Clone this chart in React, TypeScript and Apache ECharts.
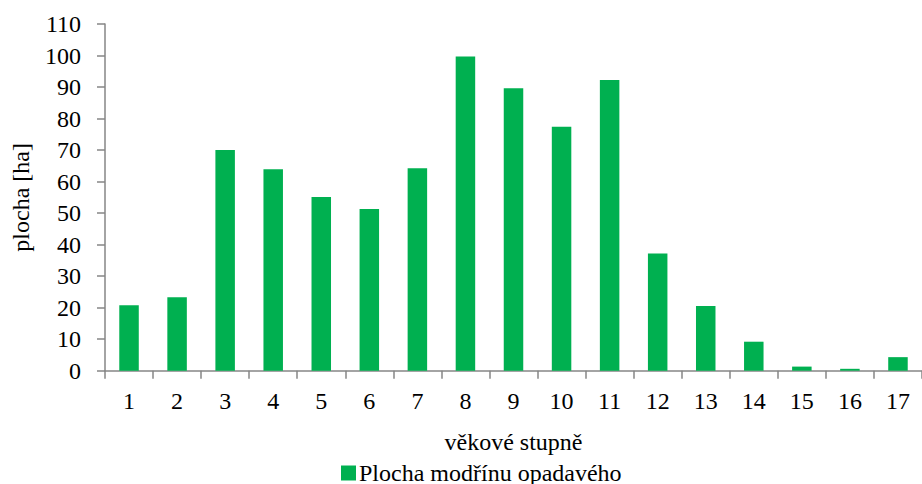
import React, { useEffect, useRef } from "react";
import * as echarts from "echarts";

const categories = ["1", "2", "3", "4", "5", "6", "7", "8", "9", "10", "11", "12", "13", "14", "15", "16", "17"];
const values = [20.8, 23.3, 70.0, 63.9, 55.1, 51.3, 64.2, 99.7, 89.6, 77.4, 92.2, 37.2, 20.5, 9.2, 1.3, 0.6, 4.3];
const seriesName = "Plocha modřínu opadavého";
const xAxisTitle = "věkové stupně";
const yAxisTitle = "plocha [ha]";

const FONT = "'Liberation Serif', 'Times New Roman', serif";

export default function App() {
  const ref = useRef<HTMLDivElement>(null);
  useEffect(() => {
    if (!ref.current) return;
    const chart = echarts.init(ref.current, null, { renderer: "svg" });
    chart.setOption({
      animation: false,
      backgroundColor: "#ffffff",
      textStyle: { fontFamily: FONT, color: "#000" },
      grid: { left: 105, top: 24, right: -8.5, height: 346.7, containLabel: false },
      legend: {
        data: [seriesName],
        left: 341,
        top: 461,
        icon: "rect",
        itemWidth: 15,
        itemHeight: 15,
        itemGap: 0,
        padding: 0,
        textStyle: { fontFamily: FONT, fontSize: 24, color: "#000", padding: [0, 0, 0, -2] },
      },
      xAxis: {
        type: "category",
        data: categories,
        name: xAxisTitle,
        nameLocation: "middle",
        nameGap: 59,
        nameTextStyle: { fontFamily: FONT, fontSize: 24, color: "#000" },
        axisLine: { lineStyle: { color: "#868686", width: 1.5 } },
        axisTick: { show: true, length: 8, lineStyle: { color: "#868686", width: 1.5 } },
        axisLabel: { fontFamily: FONT, fontSize: 24, color: "#000", margin: 18 },
      },
      yAxis: {
        type: "value",
        min: 0,
        max: 110,
        interval: 10,
        name: yAxisTitle,
        nameLocation: "middle",
        nameGap: 72,
        nameTextStyle: { fontFamily: FONT, fontSize: 24, color: "#000" },
        axisLine: { show: true, lineStyle: { color: "#868686", width: 1.5 } },
        axisTick: { show: true, length: 8, lineStyle: { color: "#868686", width: 1.5 } },
        splitLine: { show: false },
        axisLabel: { fontFamily: FONT, fontSize: 24, color: "#000", margin: 24 },
      },
      series: [
        {
          name: seriesName,
          type: "bar",
          data: values,
          barWidth: 19.5,
          itemStyle: { color: "#00B050" },
        },
      ],
    });
    return () => chart.dispose();
  }, []);
  return (
    <div
      ref={ref}
      style={{ position: "fixed", left: 0, top: 0, width: 922, height: 484, overflow: "hidden" }}
    />
  );
}
